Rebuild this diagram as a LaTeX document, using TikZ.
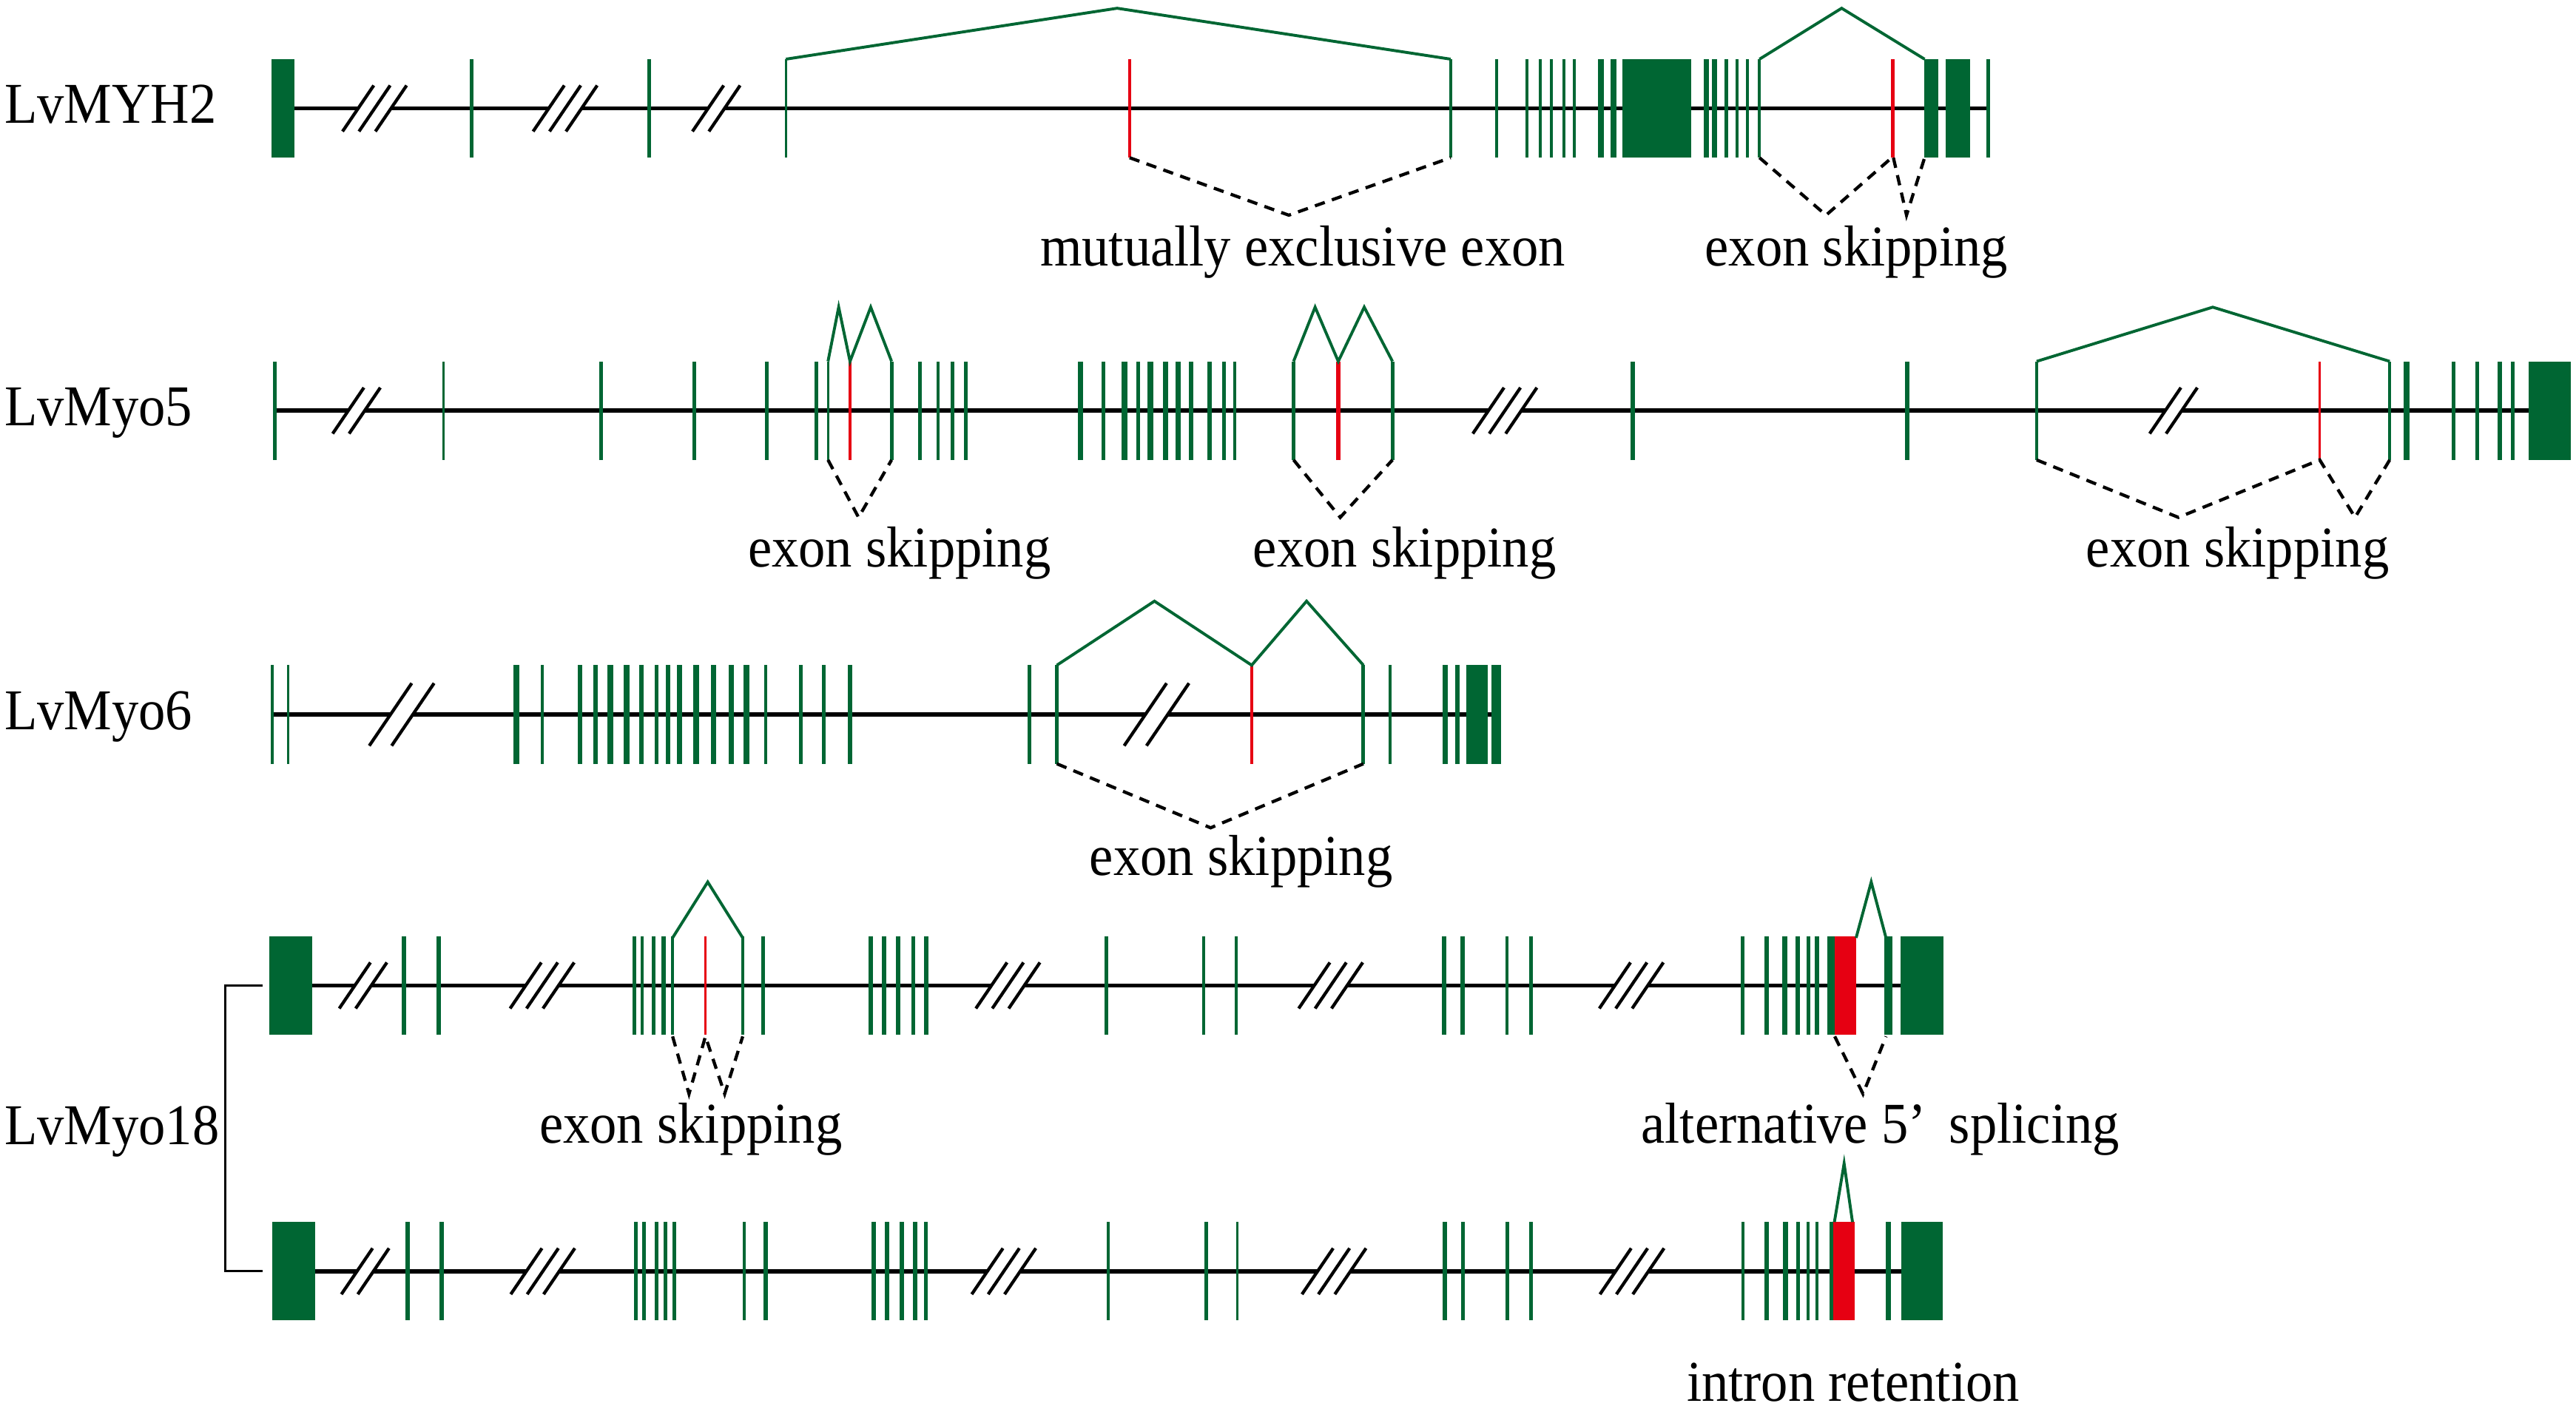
\documentclass[tikz,border=0pt]{standalone}
\usepackage{fontspec}
\setmainfont[FakeStretch=0.93]{Liberation Serif}
\definecolor{exongreen}{RGB}{0,102,51}
\definecolor{altred}{RGB}{230,0,18}
\tikzset{
  intron/.style={black, line width=0.7pt},
  junction/.style={exongreen, line width=0.5pt, line join=miter},
  skipline/.style={black, line width=0.55pt, dash pattern=on 1.8pt off 1.3pt},
  genename/.style={anchor=base west, inner sep=0pt, font=\fontsize{10}{12}\selectfont},
  eventname/.style={anchor=base, inner sep=0pt, font=\fontsize{10}{12}\selectfont},
}
% exons on a gene line: [colour] y, list of x/width
\newcommand{\exons}[3][exongreen]{%
  \foreach \ex/\ew in {#3}{\fill[#1] ({\ex-\ew/2-0.3},{#2-30}) rectangle ({\ex+\ew/2+0.3},{#2+30});}}
% break mark on a gene line: [size] x, y, strokes
\newcommand{\brk}[4][1]{%
  \begin{scope}[shift={(#2,#3)}, scale=#1]
    \pgfmathsetmacro\bw{(#4-1)*10}
    \fill[white] ({-\bw/2-9.5},14) -- ({\bw/2-9.5},14) -- ({\bw/2+9.5},-14) -- ({-\bw/2+9.5},-14) -- cycle;
    \foreach \k in {1,...,#4}
      \draw[line width=0.55pt] ({-\bw/2+(\k-1)*10-9.5},14) -- ++(19,-28);
  \end{scope}}

\begin{document}
\begin{tikzpicture}[x=0.01cm, y=-0.01cm]
  \useasboundingbox (0,0) rectangle (1568,856);

  % LvMYH2
  \node[genename] (myh2) at (2,75) {LvMYH2};
  \draw[intron] (179,66) -- (1210,66);
  \exons{66}{172.25/13, 287/1.6, 395/1.6, 478.4/0.9, 883/1.3, 911/1.6, 929.4/1.3, 937.5/1.3,
    944.4/1.3, 951.8/1.3, 958.3/1.3, 974.5/3, 982.3/3, 1008.5/41.5, 1038.5/2.5, 1043.5/2.5,
    1050.8/1.3, 1057.4/1.3, 1063.8/1.3, 1071/1.3, 1175.75/8, 1191.75/14, 1210.3/1.6}
  \exons[altred]{66}{687.6/0.9, 1152/1.6}
  \brk{228}{66}{3}
  \brk{344}{66}{3}
  \brk{436}{66}{2}
  \draw[junction] (478.4,36) -- (680,5) -- (883,36);
  \draw[junction] (1071,36) -- (1121,5) -- (1171.5,36);
  \draw[skipline] (687.6,96) -- (784.5,131) -- (883,96);
  \draw[skipline] (1071,96) -- (1111.5,131) -- (1151.5,96);
  \draw[skipline] (1152.5,96) -- (1160.5,131) -- (1171.5,96);
  \node[eventname] (mxe) at (793,162) {mutually exclusive exon};
  \node[eventname] (es1) at (1130,162) {exon skipping};

  % LvMyo5
  \node[genename] (myo5) at (2,259) {LvMyo5};
  \draw[intron] (167.2,250) -- (1539.4,250);
  \exons{250}{167.2/1.8, 270/1.1, 365.9/1.8, 422.5/1.8, 466.8/2, 496.9/1.6, 504/0.9, 542.7/1.6,
    560/1.6, 570.9/1.1, 579.7/1.6, 587.7/1.6, 657.7/2.8, 671.8/1.6, 684.6/2.8, 692.8/1.6,
    700.2/2.8, 709.4/2.8, 717.1/2.8, 724.9/2, 736.1/2, 745/2, 751.6/1.6, 787.4/2, 847.6/1.6,
    994/2, 1160.8/2, 1239.7/1.1, 1454.6/1.2, 1464.7/3, 1493.3/1.6, 1507.7/1.6, 1521.5/2,
    1529.3/1.6, 1552.2/25}
  \exons[altred]{250}{517.4/1.1, 814.6/2.2, 1412/0.8}
  \brk{217}{250}{2}
  \brk{916}{250}{3}
  \brk{1323}{250}{2}
  \draw[junction] (504,220) -- (510.5,187) -- (517.4,220) -- (530,187) -- (542.7,220);
  \draw[junction] (787.4,220) -- (800.5,187) -- (814.6,220) -- (830.4,187) -- (847.6,220);
  \draw[junction] (1239.7,220) -- (1346.9,187) -- (1454.6,220);
  \draw[skipline] (504,280) -- (522.6,315) -- (542.7,280);
  \draw[skipline] (787.4,280) -- (815.8,315) -- (847.6,280);
  \draw[skipline] (1239.7,280) -- (1326,315) -- (1412,280) -- (1433.5,315) -- (1454.6,280);
  \node[eventname] (es2) at (547.5,345) {exon skipping};
  \node[eventname] (es3) at (855,345) {exon skipping};
  \node[eventname] (es4) at (1362,345) {exon skipping};

  % LvMyo6
  \node[genename] (myo6) at (2,444) {LvMyo6};
  \draw[intron] (165.8,435) -- (908,435);
  \exons{435}{165.8/1.1, 175.4/1.1, 314.3/3, 330.1/1.3, 353.2/2, 362.5/2, 371.5/3, 381.5/3,
    390.4/2, 399.7/2, 406.6/2, 413.5/2.5, 423.9/3, 434.2/2.5, 445.2/2.5, 454.2/3, 466.2/1.3,
    487.6/1.6, 501.4/1.6, 517.3/2, 626.7/1.6, 643.3/1.6, 829.9/1.6, 846.2/1.3, 879.8/2.5,
    887.1/2.5, 899.1/12.6, 910.7/5}
  \exons[altred]{435}{761.9/0.9}
  \brk[1.36]{244.5}{435}{2}
  \brk[1.36]{704}{435}{2}
  \draw[junction] (643.3,405) -- (702.7,366) -- (761.9,405) -- (795.3,366) -- (829.9,405);
  \draw[skipline] (643.3,465) -- (736.9,504) -- (829.9,465);
  \node[eventname] (es5) at (755.5,533) {exon skipping};

  % LvMyo18, two isoforms
  \node[genename] (myo18) at (2,697) {LvMyo18};
  \draw[line width=0.4pt] (160,600) -- (137,600) -- (137,774) -- (160,774);

  \draw[intron] (190.2,600) -- (1156.7,600);
  \exons{600}{177.1/25.6, 246/2, 267/2, 386/1.8, 390.8/1.5, 398/1.8, 403.9/1.8, 409.4/1.3,
    452.1/1.1, 464.5/2, 530/2, 538.3/2, 546.6/2, 555.9/2, 563.7/2, 673.3/1.5, 732.7/1.5,
    752.4/1, 879/2, 890.4/2, 917.3/1.5, 931.8/1.5, 1060.8/1.5, 1075.5/2, 1086.5/2.5,
    1094.3/2.2, 1100.8/1.8, 1106/1.8, 1114.55/4, 1149.5/4.5, 1169.85/25.7}
  \exons[altred]{600}{429.4/1.1, 1123.3/12.4}
  \brk{221}{600}{2}
  \brk{330}{600}{3}
  \brk{613.5}{600}{3}
  \brk{810}{600}{3}
  \brk{993}{600}{3}
  \draw[junction] (409.4,571) -- (430.8,537) -- (452.1,571);
  \draw[junction] (1129.8,571) -- (1139,537) -- (1148,571);
  \draw[skipline] (409.4,631) -- (419.4,666) -- (429.4,631) -- (441.1,666) -- (452.1,631);
  \draw[skipline] (1116.8,631) -- (1134,666) -- (1148,631);
  \node[eventname] (es6) at (420.5,696) {exon skipping};
  \node[eventname] (a5ss) at (1144.5,696) {alternative 5’\hspace{0.4em}splicing};

  \draw[intron] (191.8,774) -- (1157.5,774);
  \exons{774}{178.7/25.6, 248/2, 269/2, 387/2, 392/1.5, 399.6/1.8, 405.2/1.5, 410.4/1.8,
    453/1, 466/2, 531.8/2, 539.9/2, 549.1/2, 557.2/2, 563.6/2, 674.5/1.5, 734.3/1.5,
    753.1/1, 879.5/1.8, 890.5/2, 917.6/1.5, 931.8/1.5, 1061/1.5, 1075.2/2, 1086.7/2.5,
    1094.5/1.8, 1100.5/1.5, 1106/1.5, 1114.9/2, 1149.6/2.5, 1170.1/24.6}
  \exons[altred]{774}{1122.5/12.4}
  \brk{222.3}{774}{2}
  \brk{330.4}{774}{3}
  \brk{611}{774}{3}
  \brk{812}{774}{3}
  \brk{993.4}{774}{3}
  \draw[junction] (1116.6,744) -- (1122.5,708.4) -- (1127.6,744);
  \node[eventname] (ir) at (1128,853) {intron retention};
\end{tikzpicture}
\end{document}
